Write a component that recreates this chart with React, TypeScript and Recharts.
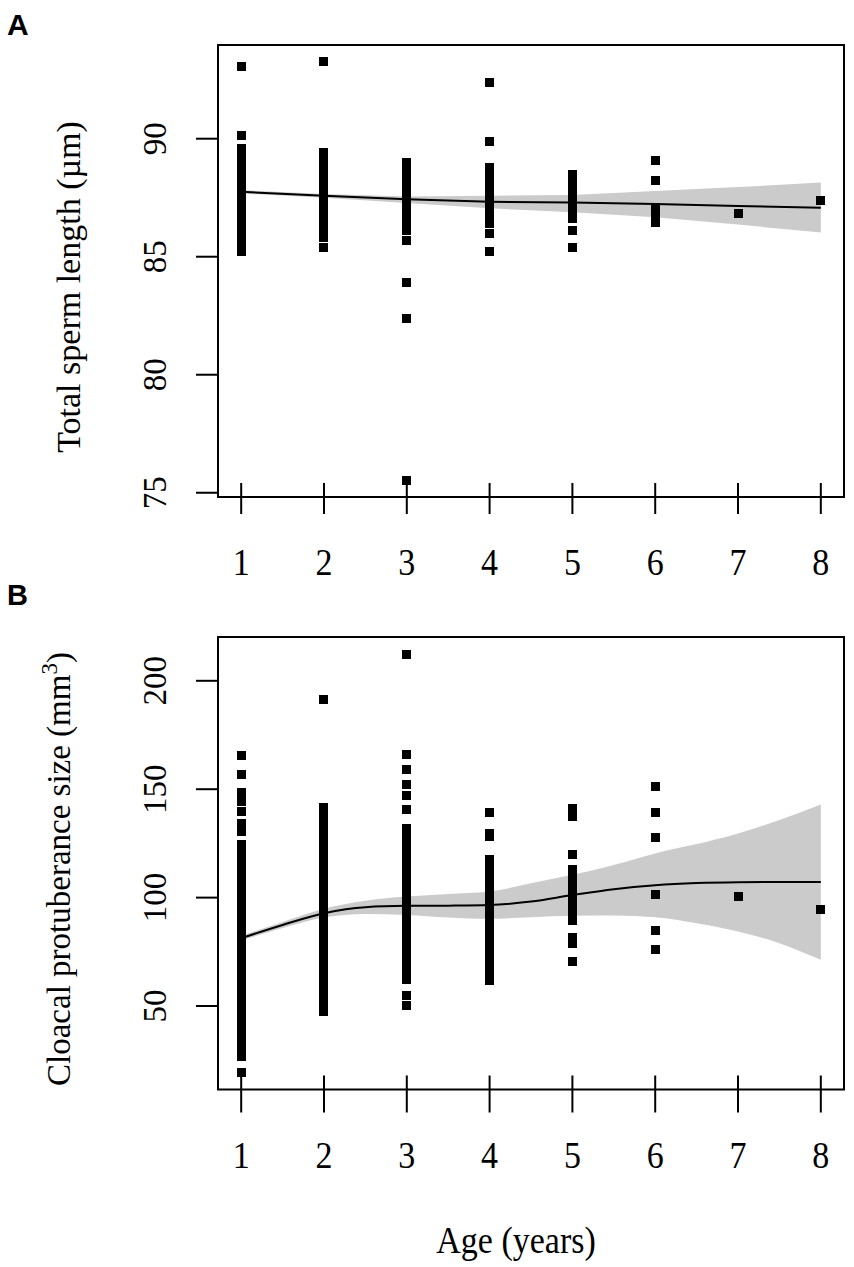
import {
  Area,
  ComposedChart,
  Line,
  ReferenceArea,
  Scatter,
  XAxis,
  YAxis,
} from "recharts";

const ages = [1, 2, 3, 4, 5, 6, 7, 8];
const lengthTicks = [75, 80, 85, 90];
const cpTicks = [50, 100, 150, 200];

// total sperm length (µm), one list per age class
const lengthAge1 = [93.05, 90.15, 89.6, 89.3, 89.0, 88.7, 88.4, 88.1, 87.8, 87.5, 87.2, 86.9, 86.6, 86.3, 86.0, 85.7, 85.45, 85.2];
const lengthAge2 = [93.26, 89.4, 89.1, 88.9, 88.6, 88.3, 88.0, 87.7, 87.5, 87.2, 86.9, 86.6, 86.3, 86.1, 85.8, 85.4];
const lengthAge3 = [89.0, 88.7, 88.4, 88.1, 87.8, 87.6, 87.3, 87.0, 86.7, 86.4, 86.1, 85.7, 83.9, 82.4, 75.5];
const lengthAge4 = [92.4, 89.9, 88.8, 88.5, 88.2, 87.9, 87.6, 87.3, 87.0, 86.7, 86.4, 86.0, 85.2];
const lengthAge5 = [88.5, 88.2, 87.9, 87.6, 87.3, 87.0, 86.6, 86.1, 85.4];
const lengthAge6 = [89.06, 88.25, 87.1, 86.8, 86.45];
const lengthAge7 = [86.85];
const lengthAge8 = [87.4];

// cloacal protuberance size (mm3), one list per age class
const cpAge1 = [165.7, 156.8, 148.7, 144.5, 139.7, 134.4, 130.5, 124.5, 121.0, 117.5, 114.0, 110.5, 107.0, 103.5, 100.0, 96.5, 93.0, 89.5, 86.0, 82.5, 79.0, 75.5, 72.0, 68.5, 65.0, 61.5, 58.0, 54.5, 51.0, 47.5, 44.0, 40.5, 37.0, 33.5, 30.0, 26.6, 19.4];
const cpAge2 = [191.5, 141.7, 138.2, 134.7, 131.2, 127.7, 124.2, 120.7, 117.2, 113.7, 110.2, 106.7, 103.2, 99.7, 96.2, 92.7, 89.2, 85.7, 82.2, 78.7, 75.2, 71.7, 68.2, 64.7, 61.2, 57.7, 54.2, 50.7, 47.3];
const cpAge3 = [212.2, 166.0, 159.1, 152.3, 147.0, 140.8, 131.9, 128.4, 124.9, 121.4, 117.9, 114.4, 110.9, 107.4, 103.9, 100.4, 96.9, 93.4, 89.9, 86.4, 82.9, 79.4, 75.9, 72.4, 68.9, 65.4, 62.3, 54.7, 50.3];
const cpAge4 = [139.1, 129.8, 128.0, 117.6, 114.1, 110.6, 107.1, 103.6, 100.1, 96.6, 93.1, 89.6, 86.1, 82.6, 79.1, 75.6, 72.1, 68.6, 65.1, 61.6];
const cpAge5 = [141.2, 137.3, 120.0, 113.0, 109.5, 106.1, 102.6, 99.2, 95.8, 92.4, 89.5, 81.8, 78.8, 70.5];
const cpAge6 = [151.4, 139.3, 127.8, 101.4, 84.7, 75.9];
const cpAge7 = [100.5];
const cpAge8 = [94.5];

// fitted curves with confidence band
const lengthFitAges = [1, 2, 3, 4, 5, 6, 7, 8];
const lengthFit = [87.75, 87.58, 87.43, 87.33, 87.3, 87.23, 87.15, 87.08];
const lengthLow = [87.68, 87.5, 87.28, 87.05, 86.88, 86.67, 86.36, 86.03];
const lengthHigh = [87.82, 87.66, 87.55, 87.58, 87.62, 87.78, 87.95, 88.14];

const cpFitAges = [1, 1.5, 2, 2.5, 3, 3.5, 4, 4.5, 5, 5.5, 6, 6.5, 7, 7.5, 8];
const cpFit = [81.3, 87.4, 92.8, 95.6, 96.2, 96.3, 96.6, 98.2, 101.2, 103.9, 105.7, 106.7, 107.1, 107.2, 107.2];
const cpLow = [80.2, 86.0, 90.8, 92.5, 92.0, 90.8, 90.2, 91.0, 91.6, 91.7, 91.0, 88.2, 84.4, 79.0, 71.3];
const cpHigh = [82.4, 88.8, 94.9, 98.6, 100.5, 101.7, 102.8, 106.6, 110.5, 115.1, 120.4, 124.7, 129.6, 135.8, 143.0];

const SERIF = "'Liberation Serif', 'Times New Roman', serif";
const SANS = "'Liberation Sans', Arial, sans-serif";

type Dot = { age: number; val: number };
type FitRow = { age: number; fit: number; band: [number, number] };

function toDots(groups: number[][]): Dot[] {
  return groups.flatMap((vals, i) => vals.map((val) => ({ age: ages[i], val })));
}

function toFit(xs: number[], fit: number[], lo: number[], hi: number[]): FitRow[] {
  return xs.map((age, i) => ({ age, fit: fit[i], band: [lo[i], hi[i]] }));
}

const lengthDots = toDots([lengthAge1, lengthAge2, lengthAge3, lengthAge4, lengthAge5, lengthAge6, lengthAge7, lengthAge8]);
const cpDots = toDots([cpAge1, cpAge2, cpAge3, cpAge4, cpAge5, cpAge6, cpAge7, cpAge8]);
const lengthRows = toFit(lengthFitAges, lengthFit, lengthLow, lengthHigh);
const cpRows = toFit(cpFitAges, cpFit, cpLow, cpHigh);

function Square(props: any) {
  const { cx, cy } = props;
  if (cx == null || cy == null) return null;
  return (
    <rect
      x={Math.round(cx - 4.5)}
      y={Math.round(cy - 4.5)}
      width={9}
      height={9}
      fill="#000"
      shapeRendering="crispEdges"
    />
  );
}

function makeXTick(down: number) {
  return (props: any) => {
    const { x, y, payload } = props;
    return (
      <g>
        <line x1={x} x2={x} y1={y - 14} y2={y + down} stroke="#000" strokeWidth={2} />
        <text
          transform={`translate(${x},${y + 78}) scale(1,1.1)`}
          textAnchor="middle"
          fontFamily={SERIF}
          fontSize={34}
          fill="#000"
        >
          {payload.value}
        </text>
      </g>
    );
  };
}

function YTick(props: any) {
  const { x, y, payload } = props;
  const tx = x - 52;
  return (
    <g>
      <line x1={x - 22} x2={x} y1={y} y2={y} stroke="#000" strokeWidth={2} />
      <text
        x={tx}
        y={y}
        transform={`rotate(-90, ${tx}, ${y})`}
        textAnchor="middle"
        fontFamily={SERIF}
        fontSize={33}
        fill="#000"
      >
        {payload.value}
      </text>
    </g>
  );
}

type PanelProps = {
  top: number;
  height: number;
  marginTop: number;
  marginBottom: number;
  dots: Dot[];
  rows: FitRow[];
  yDomain: [number, number];
  yTicks: number[];
  tickDown: number;
  curve: "linear" | "monotone";
};

const X_DOMAIN: [number, number] = [0.72, 8.28];

function Panel(p: PanelProps) {
  return (
    <div style={{ position: "absolute", left: 0, top: p.top }}>
      <ComposedChart
        width={854}
        height={p.height}
        data={p.rows}
        margin={{ top: p.marginTop, right: 10, bottom: p.marginBottom, left: 18 }}
      >
        <XAxis
          type="number"
          dataKey="age"
          domain={X_DOMAIN}
          ticks={ages}
          interval={0}
          allowDataOverflow
          axisLine={false}
          tickLine={false}
          tickSize={0}
          tickMargin={0}
          height={90}
          tick={makeXTick(p.tickDown)}
        />
        <YAxis
          type="number"
          domain={p.yDomain}
          ticks={p.yTicks}
          interval={0}
          allowDataOverflow
          axisLine={false}
          tickLine={false}
          tickSize={0}
          tickMargin={0}
          width={200}
          tick={YTick}
        />
        <Area
          type={p.curve}
          dataKey="band"
          fill="#cbcbcb"
          fillOpacity={1}
          stroke="none"
          isAnimationActive={false}
          activeDot={false}
        />
        <Scatter data={p.dots} dataKey="val" shape={Square} isAnimationActive={false} />
        <Line
          type={p.curve}
          dataKey="fit"
          stroke="#000"
          strokeWidth={2}
          dot={false}
          activeDot={false}
          isAnimationActive={false}
        />
        <ReferenceArea
          x1={X_DOMAIN[0]}
          x2={X_DOMAIN[1]}
          y1={p.yDomain[0]}
          y2={p.yDomain[1]}
          fill="none"
          stroke="#000"
          strokeWidth={2}
          ifOverflow="visible"
        />
      </ComposedChart>
    </div>
  );
}

export default function App() {
  return (
    <div style={{ position: "absolute", left: 0, top: 0, width: 854, height: 1267, background: "#fff" }}>
      <Panel
        top={0}
        height={600}
        marginTop={45}
        marginBottom={13}
        dots={lengthDots}
        rows={lengthRows}
        yDomain={[74.82, 93.97]}
        yTicks={lengthTicks}
        tickDown={17}
        curve="linear"
      />
      <Panel
        top={600}
        height={667}
        marginTop={37}
        marginBottom={87.5}
        dots={cpDots}
        rows={cpRows}
        yDomain={[11.5, 220.2]}
        yTicks={cpTicks}
        tickDown={23}
        curve="monotone"
      />
      <svg
        width={854}
        height={1267}
        style={{ position: "absolute", left: 0, top: 0, pointerEvents: "none" }}
      >
        <text x={7} y={35} fontFamily={SANS} fontWeight="bold" fontSize={30} fill="#000">
          A
        </text>
        <text x={7} y={605} fontFamily={SANS} fontWeight="bold" fontSize={29} fill="#000">
          B
        </text>
        <text
          x={80}
          y={287}
          transform="rotate(-90, 80, 287)"
          textAnchor="middle"
          fontFamily={SERIF}
          fontSize={34}
          fill="#000"
        >
          Total sperm length (µm)
        </text>
        <text
          x={70}
          y={869}
          transform="rotate(-90, 70, 869)"
          textAnchor="middle"
          fontFamily={SERIF}
          fontSize={33}
          fill="#000"
        >
          Cloacal protuberance size (mm
          <tspan dy={-13} fontSize={23}>
            3
          </tspan>
          <tspan dy={13}>)</tspan>
        </text>
        <text
          transform="translate(516,1253) scale(1,1.1)"
          textAnchor="middle"
          fontFamily={SERIF}
          fontSize={34}
          fill="#000"
        >
          Age (years)
        </text>
      </svg>
    </div>
  );
}
